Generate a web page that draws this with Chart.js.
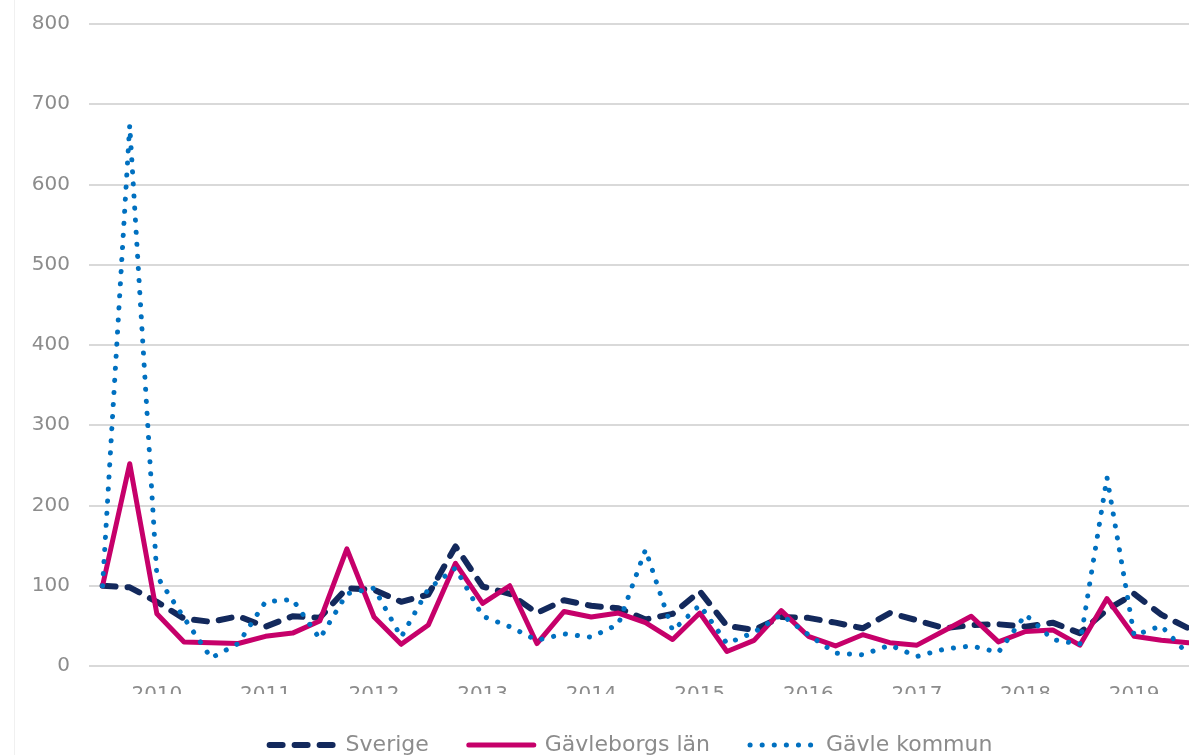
<!DOCTYPE html>
<html>
<head>
<meta charset="utf-8">
<script src="https://cdn.jsdelivr.net/npm/chart.js@4.4.1/dist/chart.umd.min.js"></script>
<style>
    html, body {
        margin: 0;
        padding: 0;
        background: #fff;
        overflow: hidden;
    }
    #frame {
        position: absolute;
        left: 14px;
        top: 0;
        width: 1px;
        height: 800px;
        background: #f0f0f0;
    }
    #chartBox {
        position: absolute;
        left: 0;
        top: 0;
        width: 1210px;
        height: 766px;
    }
</style>
</head>
<body>
<div id="frame"></div>
<div id="chartBox"><canvas id="chart"></canvas></div>
<script>
// kvartal 2010 K1 .. 2020 K1
const quarters = [
    "2010 K1", "2010 K2", "2010 K3", "2010 K4",
    "2011 K1", "2011 K2", "2011 K3", "2011 K4",
    "2012 K1", "2012 K2", "2012 K3", "2012 K4",
    "2013 K1", "2013 K2", "2013 K3", "2013 K4",
    "2014 K1", "2014 K2", "2014 K3", "2014 K4",
    "2015 K1", "2015 K2", "2015 K3", "2015 K4",
    "2016 K1", "2016 K2", "2016 K3", "2016 K4",
    "2017 K1", "2017 K2", "2017 K3", "2017 K4",
    "2018 K1", "2018 K2", "2018 K3", "2018 K4",
    "2019 K1", "2019 K2", "2019 K3", "2019 K4",
    "2020 K1"
];

const yearTicks = ["2010", "2011", "2012", "2013", "2014", "2015", "2016", "2017", "2018", "2019"];

const sverige = [100, 98, 80, 59, 55, 62, 49, 62, 60, 97, 95, 80, 89, 149, 99, 90, 66, 82, 75, 72,
    58, 65, 93, 50, 45, 61, 60, 54, 47, 66, 57, 47, 51, 52, 49, 54, 41, 70, 90, 64, 47];

const gavleborg = [100, 252, 65, 30, 29, 28, 37, 41, 56, 146, 61, 27, 51, 128, 78, 100, 28, 68, 61, 66,
    54, 33, 66, 18, 32, 69, 37, 25, 39, 29, 26, 44, 62, 30, 43, 45, 26, 84, 37, 32, 29];

const gavle = [100, 674, 112, 60, 10, 28, 80, 83, 34, 90, 97, 36, 96, 122, 62, 49, 32, 40, 36, 52,
    145, 44, 76, 28, 42, 64, 39, 16, 14, 26, 12, 21, 25, 17, 64, 33, 27, 235, 38, 50, 14];

const textColor = "#8c8c8c";
const fontFamily = "'DejaVu Sans', sans-serif";

// legenden centreras över hela diagramytan, inte över y-axeln
const legendShift = {
    id: "legendShift",
    afterLayout(chart) {
        chart.legend.left = 60;
    }
};

const ctx = document.getElementById("chart");

new Chart(ctx, {
    type: "line",
    data: {
        labels: quarters,
        datasets: [
            {
                label: "Sverige",
                data: sverige,
                borderColor: "#13295c",
                backgroundColor: "#13295c",
                borderWidth: 6,
                borderDash: [13, 12],
                borderCapStyle: "round",
                order: 3
            },
            {
                label: "Gävleborgs län",
                data: gavleborg,
                borderColor: "#c6006a",
                backgroundColor: "#c6006a",
                borderWidth: 5,
                borderCapStyle: "round",
                order: 2
            },
            {
                label: "Gävle kommun",
                data: gavle,
                borderColor: "#0070c0",
                backgroundColor: "#0070c0",
                borderWidth: 5,
                borderDash: [0.1, 12],
                borderCapStyle: "round",
                order: 1
            }
        ]
    },
    plugins: [legendShift],
    options: {
        responsive: true,
        maintainAspectRatio: false,
        animation: false,
        layout: {
            padding: { left: 0, right: 8, top: 24, bottom: 0 }
        },
        elements: {
            point: { radius: 0, hoverRadius: 0 },
            line: { tension: 0, borderJoinStyle: "round" }
        },
        plugins: {
            tooltip: { enabled: false },
            legend: {
                position: "bottom",
                labels: {
                    usePointStyle: true,
                    pointStyle: "line",
                    pointStyleWidth: 65,
                    boxHeight: 22,
                    padding: 40,
                    color: textColor,
                    font: { family: fontFamily, size: 22 },
                    generateLabels: chart => chart.data.datasets.map((ds, i) => ({
                        text: ds.label,
                        fillStyle: ds.borderColor,
                        strokeStyle: ds.borderColor,
                        lineWidth: ds.borderWidth,
                        lineDash: ds.borderDash || [],
                        lineCap: ds.borderCapStyle,
                        pointStyle: "line",
                        fontColor: textColor,
                        hidden: false,
                        datasetIndex: i
                    }))
                }
            }
        },
        scales: {
            x: {
                offset: true,
                grid: { display: false, drawTicks: false },
                border: { display: false },
                ticks: {
                    autoSkip: false,
                    maxRotation: 0,
                    padding: 17,
                    color: textColor,
                    font: { family: fontFamily, size: 20, lineHeight: 1.2 },
                    callback: (value, index) => index % 4 === 2 ? yearTicks[(index - 2) / 4] : null
                },
                afterFit: scale => { scale.height = 28; }
            },
            y: {
                min: 0,
                max: 800,
                grid: { color: "#d9d9d9", lineWidth: 2, drawTicks: false },
                border: { display: false },
                ticks: {
                    stepSize: 100,
                    padding: 19,
                    color: textColor,
                    font: { family: fontFamily, size: 20, lineHeight: 0.5 }
                },
                afterFit: scale => { scale.width = 89; }
            }
        }
    }
});
</script>
</body>
</html>
